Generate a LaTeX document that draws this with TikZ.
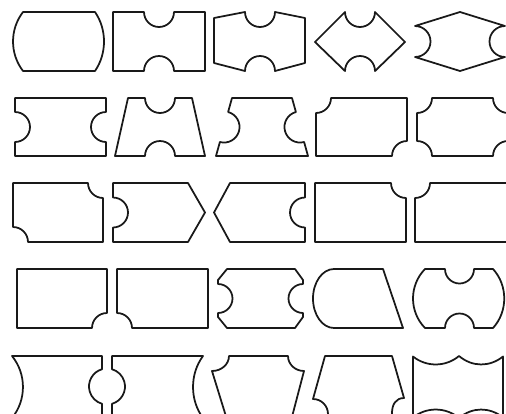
\documentclass[tikz,border=0pt]{standalone}
\begin{document}
\begin{tikzpicture}[x=1pt,y=1pt,yscale=-1,
  shp/.style={draw=black!90,line width=1.75pt,line join=round}]
\useasboundingbox (0,0) rectangle (506,413);
\fill[white] (0,0) rectangle (506,413);
\clip (0,0) rectangle (506,413);
% ---------- row 1 ----------
\draw[shp] (23,12) -- (95,12) .. controls (107,29.4) and (107,53.6) .. (95,71) -- (23,71) .. controls (9.7,53.6) and (9.7,29.4) .. (23,12) -- cycle;
\draw[shp] (113,12) -- (144,12) arc[start angle=180,end angle=0,radius=15] -- (205,12) -- (205,71) -- (174,71) arc[start angle=0,end angle=-180,radius=15] -- (113,71) -- cycle;
\draw[shp] (214,18) -- (245,12) arc[start angle=180,end angle=0,radius=15] -- (305,18) -- (305,63) -- (275,71) arc[start angle=0,end angle=-180,radius=15] -- (214,63) -- cycle;
\draw[shp] (315,42) -- (345,12) arc[start angle=180,end angle=0,radius=15] -- (405,42) -- (375,71) arc[start angle=0,end angle=-180,radius=15] -- cycle;
\draw[shp] (460,12) -- (505,26) arc[start angle=-90,end angle=-270,radius=15.5] -- (460,71) -- (415,57) arc[start angle=90,end angle=-90,radius=15.5] -- cycle;
% ---------- row 2 ----------
\draw[shp] (15,98) -- (106,98) -- (106,112) arc[start angle=-90,end angle=-270,radius=15] -- (106,156) -- (15,156) -- (15,142) arc[start angle=90,end angle=-90,radius=15] -- cycle;
\draw[shp] (128,98) -- (145,98) arc[start angle=180,end angle=0,radius=15] -- (192,98) -- (205,156) -- (175,156) arc[start angle=0,end angle=-180,radius=15] -- (115,156) -- cycle;
\draw[shp] (232,98) -- (292,98) -- (295.9,112) arc[start angle=254.7,end angle=74.7,radius=15.55] -- (308,156) -- (216,156) -- (219.9,142) arc[start angle=105.3,end angle=-74.7,radius=15.55] -- cycle;
\draw[shp] (331,98) -- (407,98) -- (407,141) arc[start angle=-90,end angle=-180,radius=15] -- (316,156) -- (316,113) arc[start angle=90,end angle=0,radius=15] -- cycle;
\draw[shp] (432,98) -- (493,98) arc[start angle=180,end angle=90,radius=15] -- (508,141) arc[start angle=270,end angle=180,radius=15] -- (432,156) arc[start angle=0,end angle=-90,radius=15] -- (417,113) arc[start angle=90,end angle=0,radius=15] -- cycle;
% ---------- row 3 ----------
\draw[shp] (13,183) -- (88,183) arc[start angle=180,end angle=90,radius=15] -- (103,242) -- (28,242) arc[start angle=0,end angle=-90,radius=15] -- cycle;
\draw[shp] (113,183) -- (188,183) -- (205,212.5) -- (188,242) -- (113,242) -- (113,227.5) arc[start angle=90,end angle=-90,radius=15] -- cycle;
\draw[shp] (214,212.5) -- (230,183) -- (305,183) -- (305,197.5) arc[start angle=-90,end angle=-270,radius=15] -- (305,242) -- (230,242) -- cycle;
\draw[shp] (315,183) -- (391,183) arc[start angle=180,end angle=90,radius=15] -- (406,242) -- (315,242) -- cycle;
\draw[shp] (430,183) -- (508,183) -- (508,242) -- (415,242) -- (415,198) arc[start angle=90,end angle=0,radius=15] -- cycle;
% ---------- row 4 ----------
\draw[shp] (17,269) -- (107,269) -- (107,313) arc[start angle=-90,end angle=-180,radius=15] -- (17,328) -- cycle;
\draw[shp] (117,269) -- (208,269) -- (208,328) -- (132,328) arc[start angle=0,end angle=-90,radius=15] -- cycle;
\draw[shp] (227,269) -- (295,269) -- (303,280) -- (303,284) arc[start angle=-90,end angle=-270,radius=14.5] -- (303,317) -- (295,328) -- (227,328) -- (218,317) -- (218,313) arc[start angle=90,end angle=-90,radius=14.5] -- (218,280) -- cycle;
\draw[shp] (334,269) -- (383,269) -- (403,328) -- (334,328) arc[start angle=90,end angle=270,x radius=21,y radius=29.5] -- cycle;
\draw[shp] (425,269) -- (445,269) arc[start angle=180,end angle=0,radius=14.5] -- (493,269) .. controls (508,285.4) and (508,311.6) .. (493,328) -- (474,328) arc[start angle=0,end angle=-180,radius=14.5] -- (425,328) .. controls (409,311.6) and (409,285.4) .. (425,269) -- cycle;
% ---------- row 5 ----------
\draw[shp] (12,356) -- (102,356) -- (102,369.2) arc[start angle=253.87,end angle=106.13,radius=18] -- (102,418) -- (12,418) .. controls (26.6,400) and (26.6,374) .. (12,356) -- cycle;
\draw[shp] (112,356) -- (203,356) .. controls (189.7,374) and (189.7,400) .. (203,418) -- (112,418) -- (112,403.8) arc[start angle=73.87,end angle=-73.87,radius=18] -- cycle;
\draw[shp] (229,356) -- (288,356) .. controls (288,364.3) and (295.2,371) .. (304,371) -- (291.7,418) -- (226.5,418) -- (212,371) .. controls (221.4,371) and (229,364.3) .. (229,356) -- cycle;
\draw[shp] (325,356) -- (392,356) -- (404,398) .. controls (395.7,398) and (392,404.7) .. (392,413) -- (392,418) -- (328,418) -- (328,414) .. controls (328,405.7) and (321.3,399) .. (313,399) -- cycle;
\draw[shp] (413,356.5) .. controls (426.4,367.2) and (445.6,367.2) .. (459,356) .. controls (472.4,367.2) and (489.6,367.2) .. (503,356.5) -- (503,417.5) .. controls (489.6,406.8) and (472.4,406.8) .. (459,418) .. controls (445.6,406.8) and (426.4,406.8) .. (413,417.5) -- cycle;
\end{tikzpicture}
\end{document}
